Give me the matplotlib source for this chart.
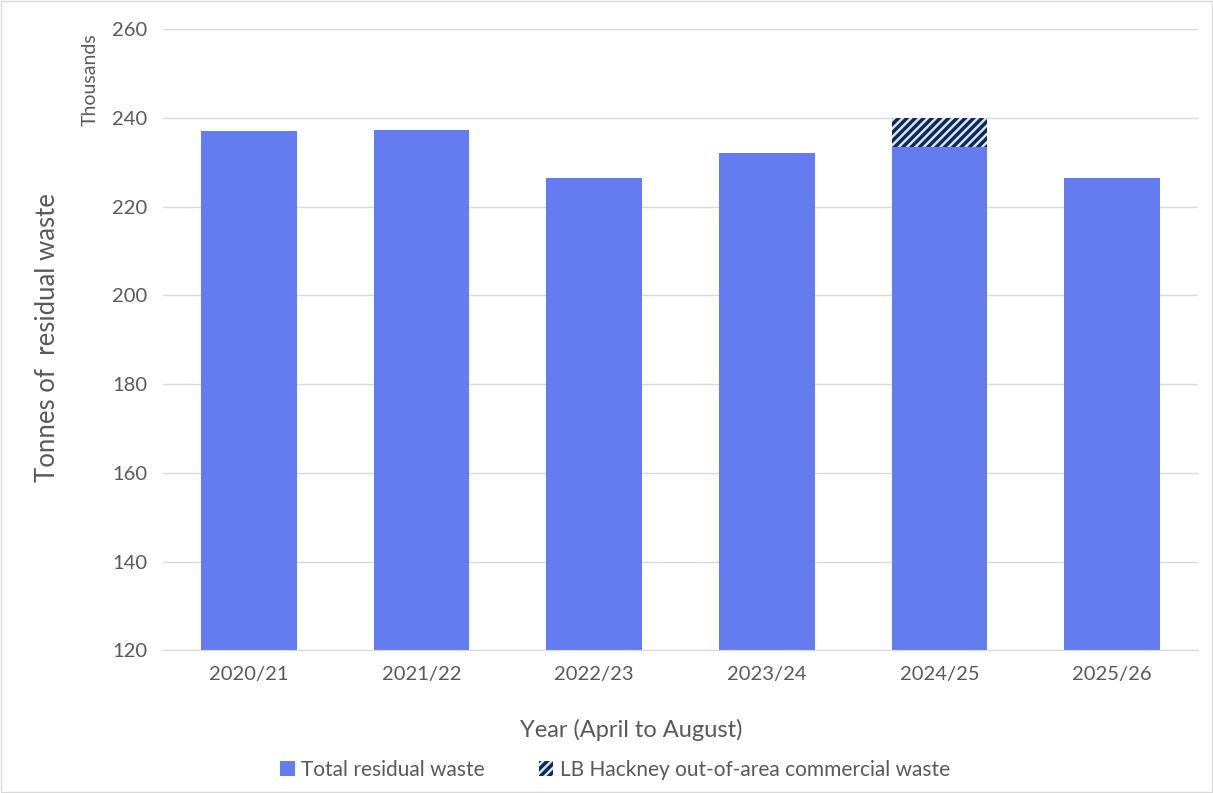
import matplotlib
matplotlib.use("agg")
import matplotlib.pyplot as plt
from matplotlib.patches import Patch
import numpy as np

years = ["2020/21", "2021/22", "2022/23", "2023/24", "2024/25", "2025/26"]
total_residual = [237.0, 237.2, 226.5, 232.2, 233.4, 226.4]   # thousands of tonnes
hackney_extra = [0, 0, 0, 0, 6.5, 0]

plt.rcParams['font.family'] = ['Lato', 'DejaVu Sans']
plt.rcParams['hatch.linewidth'] = 2.5
plt.rcParams['hatch.color'] = '#0B2A5B'

blue = '#637CEF'
grey_txt = '#595959'

fig = plt.figure(figsize=(12.13, 7.93), dpi=100)
ax = fig.add_axes([0.134, 0.180, 0.854, 0.783])

x = np.arange(len(years))
ax.bar(x, total_residual, width=0.555, color=blue, zorder=2)
ax.bar(x, hackney_extra, width=0.555, bottom=total_residual, color='#DCE6F2',
       hatch='////', edgecolor='#0B2A5B', linewidth=0, zorder=2)

ax.set_ylim(120, 260)
ax.set_xlim(-0.5, len(years) - 0.5)
ax.set_yticks(np.arange(120, 261, 20))
ax.set_xticks(x)
ax.set_xticklabels(years)
ax.yaxis.grid(True, color='#D9D9D9', linewidth=1, zorder=0)
ax.set_axisbelow(True)
for s in ['top', 'right', 'left']:
    ax.spines[s].set_visible(False)
ax.spines['bottom'].set_color('#D9D9D9')
ax.tick_params(axis='both', length=0, labelsize=14.5, colors=grey_txt, pad=11)

fig.text(0.52, 0.079, "Year (April to August)", fontsize=17, color=grey_txt,
         ha='center', va='center')
fig.text(0.039, 0.574, "Tonnes of  residual waste", rotation=90, fontsize=18.5,
         color=grey_txt, ha='center', va='center')
fig.text(0.074, 0.9, "Thousands", rotation=90, fontsize=14, color=grey_txt,
         ha='center', va='center')

handles = [Patch(facecolor=blue, label="Total residual waste"),
           Patch(facecolor='#DCE6F2', hatch='////', edgecolor='#0B2A5B', linewidth=0,
                 label="LB Hackney out-of-area commercial waste")]
fig.legend(handles=handles, loc='center', bbox_to_anchor=(0.507, 0.029), ncol=2,
           frameon=False, fontsize=15, labelcolor=grey_txt, handlelength=0.7,
           handleheight=0.7, columnspacing=2.6, handletextpad=0.3)

fig.patches.append(plt.Rectangle((0.001, 0.001), 0.998, 0.998, transform=fig.transFigure,
                                 fill=False, edgecolor='#D9D9D9', linewidth=1))

plt.savefig('out.png', dpi=100)
